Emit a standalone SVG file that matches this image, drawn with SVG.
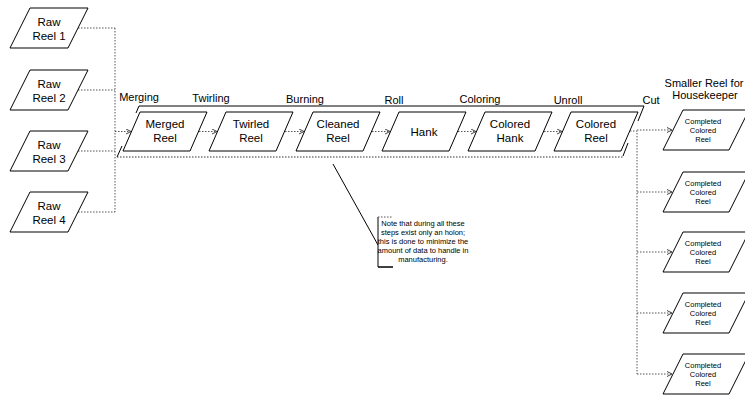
<svg xmlns="http://www.w3.org/2000/svg" width="745" height="400" viewBox="0 0 745 400">
<style>
.bx{fill:#fff;stroke:#000;stroke-width:1}
.t{font-family:"Liberation Sans",Arial,sans-serif;fill:#000;text-anchor:middle}
.big{font-size:11.5px}
.lbl{font-size:11px}
.sm{font-size:7.5px}
.tn{font-size:7.5px}
.cn{fill:none;stroke:#555;stroke-width:1;stroke-dasharray:1.5 1.5}
.fr{fill:none;stroke:#000;stroke-width:1}
</style>
<defs>
<marker id="arr" markerWidth="7" markerHeight="7" refX="5" refY="3" orient="auto" markerUnits="userSpaceOnUse">
<path d="M0,0.5 L5,3 L0,5.5" fill="none" stroke="#444" stroke-width="1"/>
</marker>
</defs>
<rect width="745" height="400" fill="#fff"/>

<g id="connectors">
<path class="cn" d="M78,28 H115 M78,90 H115 M78,151 H115 M78,212 H115 M115,28 V212"/>
<path class="cn" d="M115,131.5 H131" marker-end="url(#arr)"/>
<path class="cn" d="M199,131.5 H217" marker-end="url(#arr)"/>
<path class="cn" d="M285,131.5 H304" marker-end="url(#arr)"/>
<path class="cn" d="M372,131.5 H390" marker-end="url(#arr)"/>
<path class="cn" d="M458,131.5 H476" marker-end="url(#arr)"/>
<path class="cn" d="M544,131.5 H562" marker-end="url(#arr)"/>
<path class="cn" d="M630,131 H637 V374"/>
<path class="cn" d="M637,130 H672" marker-end="url(#arr)"/>
<path class="cn" d="M637,192 H672" marker-end="url(#arr)"/>
<path class="cn" d="M637,252 H672" marker-end="url(#arr)"/>
<path class="cn" d="M637,313 H672" marker-end="url(#arr)"/>
<path class="cn" d="M637,374 H672" marker-end="url(#arr)"/>
<path class="fr" d="M333,164 L378,245"/>
</g>

<g id="frame">
<path class="fr" d="M139,106 H644 M139,106 L136,113 M122,146 L117,157"/>
<path class="fr" d="M644,106 L638,121 M628,143 L623,156"/>
<path class="cn" d="M117,157 H623" style="stroke:#333"/>
</g>

<g id="raw1"><polygon class="bx" points="30,8 88,8 68,48 10,48"/><text class="t big" x="49" y="26">Raw</text><text class="t big" x="49" y="40">Reel 1</text></g>
<g id="raw2"><polygon class="bx" points="30,70 88,70 68,110 10,110"/><text class="t big" x="49" y="88">Raw</text><text class="t big" x="49" y="102">Reel 2</text></g>
<g id="raw3"><polygon class="bx" points="30,131 88,131 68,171 10,171"/><text class="t big" x="49" y="149">Raw</text><text class="t big" x="49" y="163">Reel 3</text></g>
<g id="raw4"><polygon class="bx" points="30,192 88,192 68,232 10,232"/><text class="t big" x="49" y="210">Raw</text><text class="t big" x="49" y="224">Reel 4</text></g>

<g id="merged"><polygon class="bx" points="140,112 207,112 190,151 123,151"/><text class="t big" x="165" y="128">Merged</text><text class="t big" x="165" y="142">Reel</text></g>
<g id="twirled"><polygon class="bx" points="226,112 293,112 276,151 209,151"/><text class="t big" x="251" y="128">Twirled</text><text class="t big" x="251" y="142">Reel</text></g>
<g id="cleaned"><polygon class="bx" points="313,112 380,112 363,151 296,151"/><text class="t big" x="338" y="128">Cleaned</text><text class="t big" x="338" y="142">Reel</text></g>
<g id="hank"><polygon class="bx" points="399,112 466,112 449,151 382,151"/><text class="t big" x="424" y="135.5">Hank</text></g>
<g id="coloredhank"><polygon class="bx" points="485,112 552,112 535,151 468,151"/><text class="t big" x="510" y="128">Colored</text><text class="t big" x="510" y="142">Hank</text></g>
<g id="coloredreel"><polygon class="bx" points="571,112 638,112 621,151 554,151"/><text class="t big" x="596" y="128">Colored</text><text class="t big" x="596" y="142">Reel</text></g>

<g id="labels">
<text class="t lbl" x="139" y="101">Merging</text>
<text class="t lbl" x="211" y="102">Twirling</text>
<text class="t lbl" x="305" y="103">Burning</text>
<text class="t lbl" x="394" y="104">Roll</text>
<text class="t lbl" x="480" y="103">Coloring</text>
<text class="t lbl" x="568" y="104">Unroll</text>
<text class="t lbl" x="651" y="104">Cut</text>
<text class="t lbl" x="704" y="87">Smaller Reel for</text>
<text class="t lbl" x="705" y="99">Housekeeper</text>
</g>

<g id="c1"><polygon class="bx" points="683,110 749,110 729,150 663,150"/><text class="t sm" x="703" y="124">Completed</text><text class="t sm" x="703" y="133">Colored</text><text class="t sm" x="703" y="142">Reel</text></g>
<g id="c2"><polygon class="bx" points="683,172 749,172 729,212 663,212"/><text class="t sm" x="703" y="186">Completed</text><text class="t sm" x="703" y="195">Colored</text><text class="t sm" x="703" y="204">Reel</text></g>
<g id="c3"><polygon class="bx" points="683,232 749,232 729,272 663,272"/><text class="t sm" x="703" y="246">Completed</text><text class="t sm" x="703" y="255">Colored</text><text class="t sm" x="703" y="264">Reel</text></g>
<g id="c4"><polygon class="bx" points="683,293 749,293 729,333 663,333"/><text class="t sm" x="703" y="307">Completed</text><text class="t sm" x="703" y="316">Colored</text><text class="t sm" x="703" y="325">Reel</text></g>
<g id="c5"><polygon class="bx" points="683,354 749,354 729,394 663,394"/><text class="t sm" x="703" y="368">Completed</text><text class="t sm" x="703" y="377">Colored</text><text class="t sm" x="703" y="386">Reel</text></g>

<g id="note">
<path fill="none" stroke="#000" stroke-width="1" d="M378,217 V267"/>
<path fill="none" stroke="#555" stroke-width="1" stroke-dasharray="1.5 1.5" d="M378,217 H393"/>
<path fill="none" stroke="#000" stroke-width="1.5" d="M378,267 H393"/>
<text class="t tn" x="423" y="225.5">Note that during all these</text>
<text class="t tn" x="423" y="234.5">steps exist only an holon;</text>
<text class="t tn" x="423" y="243.5">this is done to minimize the</text>
<text class="t tn" x="423" y="252.5">amount of data to handle in</text>
<text class="t tn" x="423" y="261.5">manufacturing.</text>
</g>
</svg>
